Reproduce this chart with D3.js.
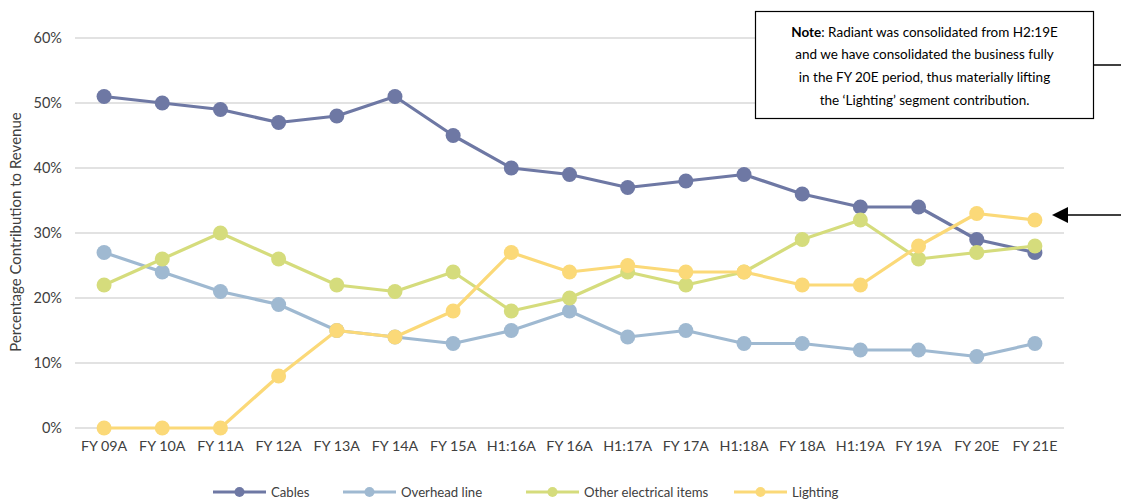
<!DOCTYPE html>
<html>
<head>
<meta charset="utf-8">
<script src="https://cdn.jsdelivr.net/npm/d3@7"></script>
<style>
  body { margin: 0; background: #fff; }
  svg { display: block; font-family: Lato, "Open Sans", sans-serif; }
</style>
</head>
<body>
<svg id="chart" width="1121" height="502"></svg>
<script>
// periods along the x axis
const periods = ["FY 09A", "FY 10A", "FY 11A", "FY 12A", "FY 13A", "FY 14A", "FY 15A", "H1:16A",
  "FY 16A", "H1:17A", "FY 17A", "H1:18A", "FY 18A", "H1:19A", "FY 19A", "FY 20E", "FY 21E"];

// segment share of revenue, %
const cables    = [51, 50, 49, 47, 48, 51, 45, 40, 39, 37, 38, 39, 36, 34, 34, 29, 27];
const overhead  = [27, 24, 21, 19, 15, 14, 13, 15, 18, 14, 15, 13, 13, 12, 12, 11, 13];
const otherItems = [22, 26, 30, 26, 22, 21, 24, 18, 20, 24, 22, 24, 29, 32, 26, 27, 28];
const lighting  = [0, 0, 0, 8, 15, 14, 18, 27, 24, 25, 24, 24, 22, 22, 28, 33, 32];

const yTicks = [0, 10, 20, 30, 40, 50, 60];

const seriesNames = ["Cables", "Overhead line", "Other electrical items", "Lighting"];
const seriesColors = ["#6e78a4", "#9fb9d1", "#d5dc7c", "#fbd978"];

const series = [cables, overhead, otherItems, lighting].map((vals, i) => ({
  name: seriesNames[i],
  color: seriesColors[i],
  values: vals.map((v, j) => ({ period: periods[j], value: v }))
}));

const svg = d3.select("#chart");

const x = d3.scaleBand()
  .domain(periods)
  .range([75, 1064])
  .padding(0);

const y = d3.scaleLinear()
  .domain([0, 60])
  .range([428, 38]);

const cx = d => x(d.period) + x.bandwidth() / 2;

// gridlines
svg.append("g")
  .selectAll("line")
  .data(yTicks)
  .enter().append("line")
  .attr("x1", 75)
  .attr("x2", 1064)
  .attr("y1", d => y(d))
  .attr("y2", d => y(d))
  .attr("stroke", "#d9d9d9")
  .attr("stroke-width", 1.5);

// y axis labels
const yAxis = svg.append("g")
  .attr("transform", "translate(68,0)")
  .call(d3.axisLeft(y).tickValues(yTicks).tickFormat(d => d + "%").tickSize(0).tickPadding(6));
yAxis.select(".domain").remove();
yAxis.selectAll("text")
  .attr("font-family", "Lato, sans-serif")
  .attr("font-size", 14.5)
  .attr("fill", "#404040");

// x axis labels
const xAxis = svg.append("g")
  .attr("transform", "translate(0,438)")
  .call(d3.axisBottom(x).tickSize(0).tickPadding(3));
xAxis.select(".domain").remove();
xAxis.selectAll("text")
  .attr("font-family", "Lato, sans-serif")
  .attr("font-size", 14.3)
  .attr("fill", "#404040");

// y axis title
svg.append("text")
  .attr("transform", "translate(21,232) rotate(-90)")
  .attr("text-anchor", "middle")
  .attr("font-size", 15)
  .attr("fill", "#404040")
  .text("Percentage Contribution to Revenue");

// lines and markers
const line = d3.line()
  .x(cx)
  .y(d => y(d.value));

const groups = svg.append("g")
  .selectAll("g")
  .data(series)
  .enter().append("g");

groups.append("path")
  .attr("d", d => line(d.values))
  .attr("fill", "none")
  .attr("stroke", d => d.color)
  .attr("stroke-width", 3.2)
  .attr("stroke-linejoin", "round");

groups.selectAll("circle")
  .data(d => d.values.map(v => ({ ...v, color: d.color })))
  .enter().append("circle")
  .attr("cx", cx)
  .attr("cy", d => y(d.value))
  .attr("r", 7.5)
  .attr("fill", d => d.color);

// legend
const legendX = [213, 343, 526, 734];
const legend = svg.append("g")
  .selectAll("g")
  .data(series)
  .enter().append("g")
  .attr("transform", (d, i) => `translate(${legendX[i]},492)`);

legend.append("line")
  .attr("x1", 0).attr("x2", 53)
  .attr("stroke", d => d.color)
  .attr("stroke-width", 3.2);
legend.append("circle")
  .attr("cx", 26.5)
  .attr("r", 5)
  .attr("fill", d => d.color);
legend.append("text")
  .attr("x", 58)
  .attr("dy", "0.35em")
  .attr("font-size", 13.2)
  .attr("fill", "#404040")
  .text(d => d.name);

// note box
const note = svg.append("g");
note.append("rect")
  .attr("x", 755.5).attr("y", 11.5)
  .attr("width", 338).attr("height", 107)
  .attr("fill", "#fff")
  .attr("stroke", "#000")
  .attr("stroke-width", 1.2);

const noteLines = [
  [["Note", true], [": Radiant was consolidated from H2:19E", false]],
  [["and we have consolidated the business fully", false]],
  [["in the FY 20E period, thus materially lifting", false]],
  [["the \u2018Lighting\u2019 segment contribution.", false]]
];
noteLines.forEach((parts, i) => {
  const t = note.append("text")
    .attr("x", 924.5)
    .attr("y", 36.5 + i * 22.7)
    .attr("text-anchor", "middle")
    .attr("font-size", 13.5)
    .attr("fill", "#000");
  parts.forEach(([s, bold]) => {
    t.append("tspan").attr("font-weight", bold ? "bold" : "normal").text(s);
  });
});

// connector and arrow on the right
svg.append("line")
  .attr("x1", 1094).attr("x2", 1121)
  .attr("y1", 65).attr("y2", 65)
  .attr("stroke", "#000").attr("stroke-width", 1.5);

svg.append("line")
  .attr("x1", 1066).attr("x2", 1121)
  .attr("y1", 215).attr("y2", 215)
  .attr("stroke", "#000").attr("stroke-width", 1.5);
svg.append("path")
  .attr("d", "M1052,215 L1068,207 L1068,223 Z")
  .attr("fill", "#000");
</script>
</body>
</html>
